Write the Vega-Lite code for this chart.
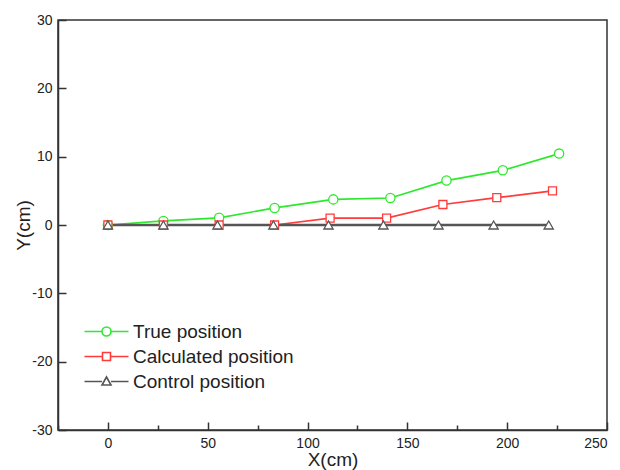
{
  "$schema": "https://vega.github.io/schema/vega-lite/v6.json",
  "width": 549,
  "height": 410,
  "autosize": {"type": "none"},
  "padding": {"left": 58, "top": 20, "right": 13, "bottom": 40},
  "background": "white",
  "config": {
    "font": "Liberation Sans",
    "view": {"stroke": "#333333", "strokeWidth": 1.5},
    "axis": {
      "grid": false,
      "domainColor": "#333333",
      "domainWidth": 1.5,
      "tickColor": "#333333",
      "tickWidth": 1.5,
      "labelFont": "Liberation Sans",
      "labelFontSize": 14,
      "labelColor": "#222222",
      "titleFont": "Liberation Sans",
      "titleFontSize": 19,
      "titleFontWeight": "normal",
      "titleColor": "#222222"
    },
    "legend": {"padding": 0}
  },
  "data": {
    "values": [
      {"series": "True position", "x": 0, "y": 0},
      {"series": "True position", "x": 27.8, "y": 0.6},
      {"series": "True position", "x": 55.7, "y": 1.05},
      {"series": "True position", "x": 83.5, "y": 2.5},
      {"series": "True position", "x": 112.9, "y": 3.75},
      {"series": "True position", "x": 141.5, "y": 3.95},
      {"series": "True position", "x": 169.6, "y": 6.5},
      {"series": "True position", "x": 197.8, "y": 8.0},
      {"series": "True position", "x": 226, "y": 10.45},
      {"series": "Calculated position", "x": 0, "y": 0},
      {"series": "Calculated position", "x": 27.8, "y": 0},
      {"series": "Calculated position", "x": 55.7, "y": 0},
      {"series": "Calculated position", "x": 83.5, "y": 0},
      {"series": "Calculated position", "x": 111.3, "y": 1.0},
      {"series": "Calculated position", "x": 139.6, "y": 1.0},
      {"series": "Calculated position", "x": 167.8, "y": 3.0},
      {"series": "Calculated position", "x": 194.8, "y": 4.0},
      {"series": "Calculated position", "x": 222.7, "y": 5.0},
      {"series": "Control position", "x": 0, "y": 0},
      {"series": "Control position", "x": 27.8, "y": 0},
      {"series": "Control position", "x": 54.9, "y": 0},
      {"series": "Control position", "x": 82.9, "y": 0},
      {"series": "Control position", "x": 110.5, "y": 0},
      {"series": "Control position", "x": 138, "y": 0},
      {"series": "Control position", "x": 165.6, "y": 0},
      {"series": "Control position", "x": 193.2, "y": 0},
      {"series": "Control position", "x": 220.8, "y": 0}
    ]
  },
  "layer": [
    {
      "transform": [{"filter": "datum.series !== 'Control position'"}],
      "mark": {"type": "line", "strokeWidth": 1.7},
      "encoding": {
        "x": {
          "field": "x", "type": "quantitative",
          "scale": {"domain": [-25, 250], "nice": false, "zero": false},
          "axis": {
            "orient": "bottom",
            "values": [-25, 0, 25, 50, 75, 100, 125, 150, 175, 200, 225, 250],
            "labelExpr": "datum.value % 50 === 0 ? toString(datum.value) : ''",
            "tickSize": {"condition": {"test": "datum.value % 50 === 0", "value": -8}, "value": -5},
            "labelPadding": 14,
            "title": "X(cm)",
            "titlePadding": 0
          }
        },
        "y": {
          "field": "y", "type": "quantitative",
          "scale": {"domain": [-30, 30], "nice": false, "zero": false},
          "axis": {
            "orient": "left",
            "values": [-30, -25, -20, -15, -10, -5, 0, 5, 10, 15, 20, 25, 30],
            "labelExpr": "datum.value % 10 === 0 ? toString(datum.value) : ''",
            "tickSize": {"condition": {"test": "datum.value % 10 === 0", "value": -8}, "value": -5},
            "labelPadding": 14,
            "title": "Y(cm)",
            "titlePadding": -2
          }
        },
        "color": {
          "field": "series", "type": "nominal",
          "scale": {"domain": ["True position", "Calculated position", "Control position"], "range": ["#2ee82e", "#ff3b3b", "#555555"]},
          "legend": {
            "title": null,
            "orient": "none",
            "legendX": 39,
            "legendY": 302,
            "symbolSize": 100,
            "symbolStrokeWidth": 1.6,
            "labelFontSize": 19,
            "labelColor": "#222222",
            "labelOffset": 17,
            "labelLimit": 400,
            "rowPadding": 5,
            "encode": {
              "symbols": {
                "update": {
                  "shape": {"signal": "datum.value === 'True position' ? 'M-4.4,0L-0.9,0M0.9,0L4.4,0M0.9,0A0.9,0.9 0 1,1 -0.9,0A0.9,0.9 0 1,1 0.9,0' : datum.value === 'Calculated position' ? 'M-4.4,0L-0.8,0M0.8,0L4.4,0M-0.8,-0.8L0.8,-0.8L0.8,0.8L-0.8,0.8Z' : 'M-4.4,0L-0.9,0M0.9,0L4.4,0M0,-0.9L0.9,0.7L-0.9,0.7Z'"},
                  "fill": {"value": "transparent"}
                }
              }
            }
          }
        }
      }
    },
    {
      "transform": [{"filter": "datum.series === 'Control position'"}],
      "mark": {"type": "line", "strokeWidth": 2.3},
      "encoding": {
        "x": {"field": "x", "type": "quantitative"},
        "y": {"field": "y", "type": "quantitative"},
        "color": {"field": "series", "type": "nominal"}
      }
    },
    {
      "transform": [{"filter": "datum.series === 'True position'"}],
      "mark": {"type": "point", "shape": "circle", "filled": false, "fill": "white", "fillOpacity": 1, "stroke": "#2ee82e", "opacity": 1, "size": 85, "strokeWidth": 1.3},
      "encoding": {
        "x": {"field": "x", "type": "quantitative"},
        "y": {"field": "y", "type": "quantitative"}
      }
    },
    {
      "transform": [{"filter": "datum.series === 'Calculated position'"}],
      "mark": {"type": "point", "shape": "square", "filled": false, "fill": "white", "fillOpacity": 1, "stroke": "#ff3b3b", "opacity": 1, "size": 64, "strokeWidth": 1.3},
      "encoding": {
        "x": {"field": "x", "type": "quantitative"},
        "y": {"field": "y", "type": "quantitative"}
      }
    },
    {
      "transform": [{"filter": "datum.series === 'Control position'"}],
      "mark": {"type": "point", "shape": "triangle-up", "filled": false, "fill": "white", "fillOpacity": 1, "stroke": "#555555", "opacity": 1, "size": 85, "strokeWidth": 1.3},
      "encoding": {
        "x": {"field": "x", "type": "quantitative"},
        "y": {"field": "y", "type": "quantitative"}
      }
    }
  ]
}
